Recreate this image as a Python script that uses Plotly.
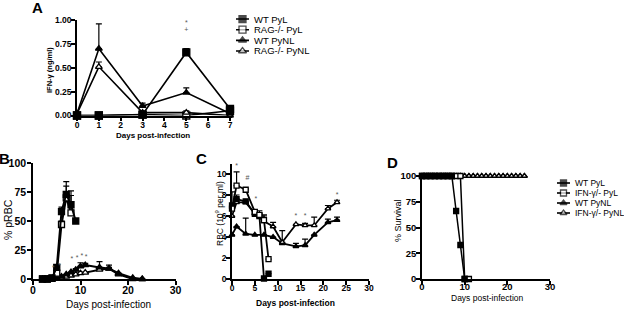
import plotly.graph_objects as go

W, H = 624, 310
def px(x): return x / W
def py(y): return 1 - y / H

# ---------------- Panel A : IFN-gamma ----------------
a_days = [0, 1, 3, 5, 7]
a_wt_pyl = [0.0, 0.0, 0.01, 0.66, 0.07]
a_wt_pyl_err = [0, 0, 0, 0.04, 0.02]
a_rag_pyl = [0.0, 0.0, 0.01, 0.0, 0.05]
a_rag_pyl_err = [0, 0, 0.01, 0, 0]
a_wt_pynl = [0.02, 0.70, 0.10, 0.24, 0.02]
a_wt_pynl_err = [0, 0.26, 0.03, 0.05, 0]
a_rag_pynl = [0.02, 0.51, 0.03, 0.03, 0.0]
a_rag_pynl_err = [0, 0.05, 0, 0.02, 0]
a_labels = ["WT PyL", "RAG-/- PyL", "WT PyNL", "RAG-/- PyNL"]
a_yticks = [0, 0.25, 0.5, 0.75, 1.0]
a_xticks = [0, 1, 2, 3, 4, 5, 6, 7]
a_mark_x = [1, 1, 5, 5, 5, 7.2]
a_mark_y = [1.17, 1.11, 1.06, 0.97, 0.89, 0.28]
a_mark_t = ["-", "+", "#", "*", "+", "~"]

# ---------------- Panel B : % pRBC ----------------
b_pyl_days = [2, 3, 4, 5, 6, 7, 8, 9]
b_wt_pyl = [0, 0, 1, 10, 58, 73, 64, 50]
b_wt_pyl_err = [0, 0, 0, 2, 4, 11, 12, 0]
b_ifn_pyl_days = [2, 3, 4, 5, 6, 7, 8]
b_ifn_pyl = [0, 0, 0.5, 5, 47, 70, 57]
b_ifn_pyl_err = [0, 0, 0, 1, 3, 10, 15]
b_pynl_days = [2, 3, 4, 5, 6, 7, 8, 9, 10, 11, 14, 16, 18, 21, 23]
b_wt_pynl = [0, 0, 0, 1, 2, 4, 6, 8, 11, 12, 10, 9, 4, 0, 0]
b_wt_pynl_err = [0, 0, 0, 0, 0, 0, 0, 1, 3, 1.5, 5, 3, 0, 0, 0]
b_ifn_pynl = [0, 0, 0, 0.5, 1, 2, 3, 4, 5, 5.5, 8, 9, 5, 1, 0]
b_ifn_pynl_err = [0, 0, 0, 0, 0, 0, 0, 0, 1, 0, 1, 1, 0, 0, 0]
b_yticks = [0, 25, 50, 75, 100]
b_xticks = [0, 10, 20, 30]
b_mark_x = [4.3, 5.6, 8.2, 9.3, 10.3, 11.2]
b_mark_y = [9, 11, 17, 18, 20, 19]
b_mark_t = ["*", "*", "*", "*", "*", "*"]

# ---------------- Panel C : RBC ----------------
c_pyl_days = [0, 1, 3, 5, 6, 7, 8]
c_wt_pyl = [7.0, 7.6, 7.4, 6.2, 6.0, 0.05, 0.5]
c_wt_pyl_err = [1.3, 0.4, 0, 0.3, 0.3, 0, 0]
c_ifn_pyl = [6.7, 8.9, 8.5, 6.4, 6.1, 5.6, 1.9]
c_ifn_pyl_err = [0, 1.3, 0.1, 0, 0.4, 0.5, 0]
c_pynl_days = [0, 1, 3, 5, 7, 9, 11, 14, 16, 18, 21, 23]
c_wt_pynl = [4.2, 5.0, 4.3, 4.2, 4.2, 4.0, 3.4, 3.1, 3.2, 4.2, 5.4, 5.6]
c_wt_pynl_err = [0, 0, 1.5, 0, 0, 0, 0, 0.3, 0.6, 0, 0.3, 0.3]
c_ifn_pynl = [6.0, 7.3, 7.3, 6.2, 5.5, 5.0, 3.5, 5.2, 5.1, 5.1, 6.7, 7.3]
c_ifn_pynl_err = [0, 0.3, 0, 0, 0.5, 0.4, 1.1, 0, 0.2, 0.8, 0.3, 0.2]
c_yticks = [0, 2, 4, 6, 8, 10]
c_xticks = [0, 5, 10, 15, 20, 25, 30]
c_mark_x = [1, 3.4, 5.2, 14, 16, 23]
c_mark_y = [10.7, 9.6, 7.6, 6.0, 6.0, 8.0]
c_mark_t = ["*", "#", "*", "*", "*", "*"]

# ---------------- Panel D : survival ----------------
d_wt_pyl_days = [0, 1, 2, 3, 4, 5, 6, 7, 8, 9, 10]
d_wt_pyl = [100, 100, 100, 100, 100, 100, 100, 100, 66, 33, 0]
d_ifn_pyl_days = [0, 1, 2, 3, 4, 5, 6, 7, 8, 9, 10, 11]
d_ifn_pyl = [100, 100, 100, 100, 100, 100, 100, 100, 100, 100, 0, 0]
d_pynl_days = list(range(0, 25))
d_wt_pynl = [100] * 25
d_ifn_pynl = [100] * 25
d_labels = ["WT PyL", "IFN-\u03b3/- PyL", "WT PyNL", "IFN-\u03b3/- PyNL"]
d_yticks = [0, 25, 50, 75, 100]
d_xticks = [0, 10, 20, 30]

STYLES = [
    dict(symbol="square", color="black"),
    dict(symbol="square", color="white"),
    dict(symbol="triangle-up", color="black"),
    dict(symbol="triangle-up", color="white"),
]

ARIAL = "Liberation Sans, Arial, sans-serif"
NARROW = "Liberation Sans Narrow, Arial Narrow, Liberation Sans, sans-serif"

fig = go.Figure()

def add_series(x, y, err, k, xa, ya, size=6, lw=1.6):
    st = STYLES[k]
    ey = None
    if err is not None:
        ey = dict(type="data", array=err, arrayminus=[0] * len(err), symmetric=False,
                  width=3, thickness=1.2, color="black")
    fig.add_trace(go.Scatter(
        x=x, y=y, mode="lines+markers", xaxis=xa, yaxis=ya, showlegend=False,
        line=dict(color="black", width=lw),
        marker=dict(symbol=st["symbol"], color=st["color"], size=size,
                    line=dict(color="black", width=1.3)),
        error_y=ey, cliponaxis=False, hoverinfo="skip"))

def add_marks(x, y, t, xa, ya, size=7):
    fig.add_trace(go.Scatter(
        x=x, y=y, text=t, mode="text", xaxis=xa, yaxis=ya, showlegend=False,
        textfont=dict(family=ARIAL, size=size, color="#555"),
        textposition="middle center", cliponaxis=False, hoverinfo="skip"))

# Panel A
add_series(a_days, a_rag_pyl, a_rag_pyl_err, 1, "x", "y", 7)
add_series(a_days, a_rag_pynl, a_rag_pynl_err, 3, "x", "y", 6)
add_series(a_days, a_wt_pynl, a_wt_pynl_err, 2, "x", "y", 6)
add_series(a_days, a_wt_pyl, a_wt_pyl_err, 0, "x", "y", 7)
add_marks(a_mark_x, a_mark_y, a_mark_t, "x", "y")

# Panel B
add_series(b_pynl_days, b_ifn_pynl, b_ifn_pynl_err, 3, "x2", "y2", 6, 2)
add_series(b_pynl_days, b_wt_pynl, b_wt_pynl_err, 2, "x2", "y2", 6, 2)
add_series(b_ifn_pyl_days, b_ifn_pyl, b_ifn_pyl_err, 1, "x2", "y2", 6, 2)
add_series(b_pyl_days, b_wt_pyl, b_wt_pyl_err, 0, "x2", "y2", 6, 2)
add_marks(b_mark_x, b_mark_y, b_mark_t, "x2", "y2")

# Panel C
add_series(c_pynl_days, c_wt_pynl, c_wt_pynl_err, 2, "x3", "y3", 5, 1.8)
add_series(c_pynl_days, c_ifn_pynl, c_ifn_pynl_err, 3, "x3", "y3", 5, 1.8)
add_series(c_pyl_days, c_wt_pyl, c_wt_pyl_err, 0, "x3", "y3", 5, 1.8)
add_series(c_pyl_days, c_ifn_pyl, c_ifn_pyl_err, 1, "x3", "y3", 5, 1.8)
add_marks(c_mark_x, c_mark_y, c_mark_t, "x3", "y3")

# Panel D
add_series(d_pynl_days, d_wt_pynl, None, 2, "x4", "y4", 5, 1.5)
add_series(d_pynl_days, d_ifn_pynl, None, 3, "x4", "y4", 5, 1.5)
add_series(d_ifn_pyl_days, d_ifn_pyl, None, 1, "x4", "y4", 5, 1.5)
add_series(d_wt_pyl_days, d_wt_pyl, None, 0, "x4", "y4", 5, 1.5)

# Manual legends (sample line with marker in the middle)
def add_legend(labels, xa, ya, size, font):
    for i, lab in enumerate(labels):
        st = STYLES[i]
        fig.add_trace(go.Scatter(
            x=[0, 6.5, 13], y=[i, i, i], mode="lines+markers", xaxis=xa, yaxis=ya,
            showlegend=False, line=dict(color="black", width=1.6),
            marker=dict(symbol=st["symbol"], color=st["color"], size=[0, size, 0],
                        line=dict(color="black", width=1.3)),
            cliponaxis=False, hoverinfo="skip"))
        fig.add_annotation(x=16, y=i, xref=xa, yref=ya, text=lab, showarrow=False,
                           xanchor="left", yanchor="middle", font=font)

add_legend(a_labels, "x5", "y5", 7, dict(family=ARIAL, size=9.5, color="black"))
add_legend(d_labels, "x6", "y6", 6, dict(family=NARROW, size=8.5, color="black"))

def axis_style(tickvals, rng, dom, anchor, font, standoff, ticktext=None):
    d = dict(domain=dom, range=rng, anchor=anchor, tickvals=tickvals,
             showline=True, linecolor="black", linewidth=1.6, ticks="outside",
             ticklen=4, tickwidth=1.5, tickcolor="black", showgrid=False,
             zeroline=False, tickfont=font, fixedrange=True, automargin=False,
             ticklabelstandoff=standoff)
    if ticktext is not None:
        d["ticktext"] = ticktext
    return d

fA = dict(family=ARIAL, size=8.5, color="black", weight="bold")
fB = dict(family=NARROW, size=10.5, color="black", weight="bold")
fC = dict(family=NARROW, size=8.5, color="black", weight="bold")
fD = dict(family=ARIAL, size=9.5, color="black", weight="bold")

hidden = dict(visible=False, fixedrange=True, automargin=False)

fig.update_layout(
    template="none",
    width=W, height=H, margin=dict(l=0, r=0, t=0, b=0, pad=0, autoexpand=False),
    paper_bgcolor="white", plot_bgcolor="white", showlegend=False,
    xaxis=axis_style(a_xticks, [0, 7.1], [px(77), px(232.2)], "y", fA, -4),
    yaxis=axis_style(a_yticks, [0, 1.0], [py(115.5), py(20)], "x", fA, -2,
                     ["%.2f" % v for v in a_yticks]),
    xaxis2=axis_style(b_xticks, [0, 30], [px(33), px(175.5)], "y2", fB, -3),
    yaxis2=axis_style(b_yticks, [0, 100], [py(279), py(163)], "x2", fB, -1),
    xaxis3=axis_style(c_xticks, [0, 30], [px(232), px(369)], "y3", fC, -4),
    yaxis3=axis_style(c_yticks, [0, 11], [py(279), py(163.5)], "x3", fC, -2),
    xaxis4=axis_style(d_xticks, [0, 30], [px(422), px(550)], "y4", fD, -6),
    yaxis4=axis_style(d_yticks, [0, 100], [py(279), py(176)], "x4", fD, -2),
    xaxis5=dict(domain=[px(236), px(320)], range=[0, 84], anchor="y5", **hidden),
    yaxis5=dict(domain=[py(56.3), py(13.7)], range=[3.5, -0.5], anchor="x5", **hidden),
    xaxis6=dict(domain=[px(557), px(624)], range=[0, 67], anchor="y6", **hidden),
    yaxis6=dict(domain=[py(218), py(178)], range=[3.5, -0.5], anchor="x6", **hidden),
)

def paper_text(x, y, text, font, angle=0):
    fig.add_annotation(x=px(x), y=py(y), xref="paper", yref="paper", text=text,
                       showarrow=False, textangle=angle, font=font,
                       xanchor="center", yanchor="middle")

# panel letters
letter = dict(family=ARIAL, size=15, color="black", weight="bold")
paper_text(37, 8, "A", letter)
paper_text(4, 158, "B", letter)
paper_text(201, 158, "C", letter)
paper_text(392, 162, "D", letter)

# axis titles
paper_text(153, 135, "Days post-infection", dict(family=ARIAL, size=8, color="black", weight="bold"))
paper_text(49, 70, "IFN-\u03b3 (ng/ml)", dict(family=ARIAL, size=7.5, color="black", weight="bold"), -90)
paper_text(108, 304, "Days post-infection", dict(family=NARROW, size=10, color="black"))
paper_text(8, 220, "% pRBC", dict(family=NARROW, size=10.5, color="black"), -90)
paper_text(295, 303, "Days post-infection", dict(family=NARROW, size=8.5, color="black", weight="bold"))
paper_text(219, 213, "RBC (10<sup>9</sup> per ml)", dict(family=NARROW, size=8.5, color="black"), -90)
paper_text(487, 298, "Days post-infection", dict(family=NARROW, size=8.5, color="black"))
paper_text(398, 221, "% Survival", dict(family=NARROW, size=9, color="black"), -90)

fig.write_html("out.html", config={"displayModeBar": False},
               post_script="document.body.style.margin='0';document.body.style.padding='0';document.body.style.overflow='hidden';")
